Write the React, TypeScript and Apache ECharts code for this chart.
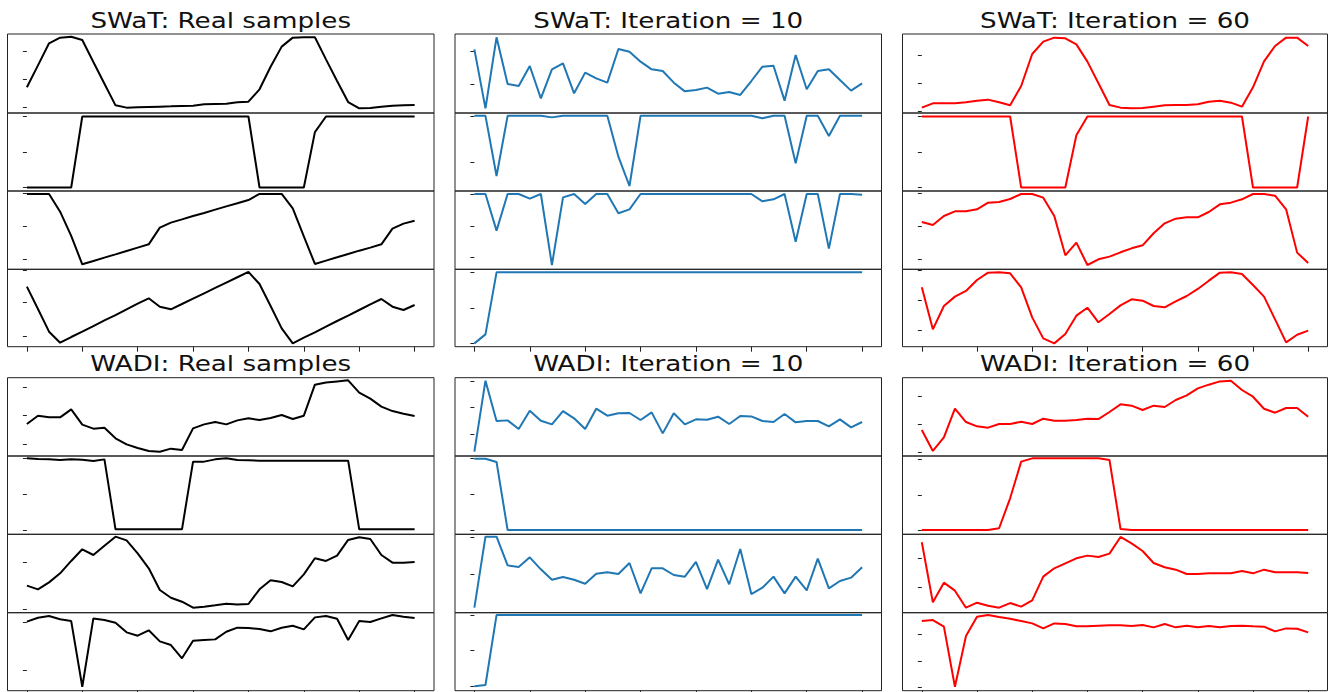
import React, { useEffect, useRef } from "react";
import * as echarts from "echarts";

// sample index along the window (0..35) and x tick values
const sampleIndex = Array.from({ length: 36 }, (_, i) => i);
const xTicks = [0, 5, 10, 15, 20, 25, 30, 35];

// Values are read as percent of each subplot's visible y-range (0 = bottom, 100 = top)
// ---------- SWaT: Real samples ----------
const swatReal1 = [32.5, 60.3, 88.2, 95.4, 96.6, 92.4, 64.6, 37.1, 9.7, 6.8, 7.2, 7.6, 8.0, 8.4, 8.9, 9.3, 11.0, 11.4, 11.8, 13.5, 14.3, 30.0, 58.6, 84.0, 95.4, 95.8, 95.8, 67.9, 40.5, 13.9, 5.9, 6.3, 8.0, 9.3, 9.7, 10.1];
const swatReal2 = [4.5, 4.5, 4.5, 4.5, 4.5, 95.5, 95.5, 95.5, 95.5, 95.5, 95.5, 95.5, 95.5, 95.5, 95.5, 95.5, 95.5, 95.5, 95.5, 95.5, 95.5, 4.5, 4.5, 4.5, 4.5, 4.5, 75.5, 95.5, 95.5, 95.5, 95.5, 95.5, 95.5, 95.5, 95.5, 95.5];
const swatReal3 = [96.2, 96.2, 96.2, 73.6, 42.6, 6.4, 10.6, 14.9, 19.1, 23.4, 27.7, 31.9, 53.2, 59.6, 63.8, 68.1, 71.9, 76.2, 80.4, 84.3, 88.5, 96.2, 96.2, 96.2, 77.9, 42.0, 6.8, 11.1, 15.3, 19.6, 23.8, 27.7, 31.9, 51.9, 58.3, 62.1];
const swatReal4 = [77.6, 48.7, 19.4, 5.2, 12.5, 19.4, 26.7, 34.1, 40.9, 48.3, 55.6, 62.5, 51.7, 48.3, 55.2, 62.1, 69.0, 75.9, 82.8, 89.7, 96.6, 81.0, 52.6, 23.7, 4.3, 11.6, 18.5, 25.9, 33.2, 40.1, 47.4, 54.7, 61.6, 51.7, 47.4, 53.9];
const swatRealTicks = [[7.6, 42.6, 77.6], [4.5, 50, 95.5], [13.2, 55.3, 97.0], [13.8, 56.9, 99.1]];

// ---------- SWaT: Iteration = 10 ----------
const swatIt10_1 = [80.6, 5.9, 95.8, 36.7, 34.2, 59.5, 18.6, 55.3, 62.9, 24.9, 51.1, 43.9, 38.4, 81.0, 77.6, 65.0, 55.3, 53.2, 38.4, 27.4, 29.1, 32.1, 24.5, 26.6, 22.8, 40.5, 58.6, 59.9, 15.6, 73.4, 30.0, 53.2, 55.3, 41.8, 28.3, 37.6];
const swatIt10_2 = [96.4, 96.4, 19.2, 96.4, 96.4, 96.4, 96.4, 94.4, 96.4, 96.4, 96.4, 96.4, 96.4, 44.0, 6.4, 96.4, 96.4, 96.4, 96.4, 96.4, 96.4, 96.4, 96.4, 96.4, 96.4, 96.4, 93.2, 96.4, 96.4, 35.5, 96.4, 96.4, 70.5, 96.4, 96.4, 96.4];
const swatIt10_3 = [96.2, 96.2, 49.4, 96.2, 96.2, 90.2, 96.2, 5.5, 91.9, 96.2, 83.4, 96.2, 96.2, 71.5, 76.6, 96.2, 96.2, 96.2, 96.2, 96.2, 96.2, 96.2, 96.2, 96.2, 96.2, 96.2, 86.8, 89.4, 96.2, 35.3, 96.2, 96.2, 26.4, 96.2, 96.2, 95.3];
const swatIt10_4 = [4.3, 15.9, 96.1, 96.1, 96.1, 96.1, 96.1, 96.1, 96.1, 96.1, 96.1, 96.1, 96.1, 96.1, 96.1, 96.1, 96.1, 96.1, 96.1, 96.1, 96.1, 96.1, 96.1, 96.1, 96.1, 96.1, 96.1, 96.1, 96.1, 96.1, 96.1, 96.1, 96.1, 96.1, 96.1, 96.1];
const swatIt10Ticks = [[36.7, 77.6], [36.8, 96.4], [14.9, 55.3, 96.2], [4.3, 49.6, 95.7]];

// ---------- SWaT: Iteration = 60 ----------
const swatIt60_1 = [6.8, 12.2, 12.2, 12.2, 13.5, 15.6, 16.9, 13.5, 9.7, 34.2, 74.7, 90.3, 95.4, 94.5, 86.9, 65.0, 37.6, 10.1, 6.8, 5.9, 6.3, 8.0, 9.7, 10.1, 10.1, 11.0, 14.3, 15.6, 13.1, 8.0, 32.5, 65.4, 84.8, 95.4, 95.4, 84.8];
const swatIt60_2 = [95.5, 95.5, 95.5, 95.5, 95.5, 95.5, 95.5, 95.5, 95.5, 4.5, 4.5, 4.5, 4.5, 4.5, 71.4, 95.5, 95.5, 95.5, 95.5, 95.5, 95.5, 95.5, 95.5, 95.5, 95.5, 95.5, 95.5, 95.5, 95.5, 95.5, 4.5, 4.5, 4.5, 4.5, 4.5, 95.5];
const swatIt60_3 = [60.4, 56.6, 68.1, 74.0, 74.0, 76.6, 85.1, 86.0, 89.8, 96.2, 96.2, 91.5, 68.1, 17.9, 34.0, 5.5, 12.8, 16.2, 21.7, 26.8, 30.6, 46.0, 58.7, 64.7, 66.4, 66.4, 73.2, 83.0, 85.1, 89.4, 96.2, 96.2, 94.0, 76.6, 21.3, 8.1];
const swatIt60_4 = [76.7, 22.4, 52.6, 64.7, 72.0, 86.2, 95.7, 96.1, 94.8, 76.7, 37.9, 10.8, 4.3, 16.4, 40.1, 50.4, 31.5, 42.2, 53.4, 61.2, 59.5, 52.6, 50.9, 58.6, 65.5, 74.6, 85.3, 95.7, 96.1, 94.0, 79.7, 64.7, 35.3, 5.6, 15.5, 20.7];
const swatIt60Ticks = [[2.5, 37.6, 72.6], [4.5, 50, 95.5], [13.2, 55.3, 97.0], [20.7, 59.5, 98.3]];

// ---------- WADI: Real samples ----------
const wadiReal1 = [40.9, 51.5, 49.4, 49.4, 59.6, 40.0, 34.9, 36.2, 22.6, 14.9, 10.2, 6.4, 5.5, 9.4, 7.7, 35.3, 40.4, 43.4, 40.4, 45.5, 48.1, 46.0, 48.5, 52.3, 47.2, 51.5, 91.1, 94.0, 95.3, 96.6, 80.9, 73.2, 63.0, 57.4, 54.0, 51.1];
const wadiReal2 = [97.0, 96.2, 95.7, 94.9, 95.7, 95.3, 93.6, 95.7, 6.4, 6.4, 6.4, 6.4, 6.4, 6.4, 6.4, 92.8, 92.8, 95.7, 97.0, 94.9, 94.5, 94.0, 94.0, 94.0, 94.0, 94.0, 94.0, 94.0, 94.0, 94.0, 6.4, 6.4, 6.4, 6.4, 6.4, 6.4];
const wadiReal3 = [34.5, 29.8, 38.7, 50.2, 66.0, 80.9, 73.6, 85.5, 97.0, 92.3, 75.7, 56.6, 28.9, 19.1, 14.0, 6.4, 7.7, 9.4, 11.5, 10.6, 11.1, 29.8, 41.3, 39.1, 33.6, 48.9, 69.4, 66.0, 72.8, 92.8, 96.2, 94.0, 73.6, 63.8, 63.8, 64.7];
const wadiReal4 = [88.5, 93.6, 95.7, 91.5, 89.3, 5.1, 92.7, 90.6, 87.2, 74.8, 70.5, 77.4, 63.2, 58.5, 41.5, 64.1, 65.0, 65.8, 75.6, 80.8, 80.3, 79.1, 76.1, 80.8, 83.3, 78.6, 94.0, 95.7, 92.3, 65.0, 89.3, 88.0, 92.7, 97.0, 94.9, 93.2];
const wadiRealTicks = [[14.9, 51.5, 87.7], [5.5, 51.5, 97.0], [4.3, 64.7], [26.5, 87.6]];

// ---------- WADI: Iteration = 10 ----------
const wadiIt10_1 = [5.5, 96.2, 44.7, 45.5, 34.5, 57.9, 45.1, 40.4, 57.4, 48.1, 34.5, 60.4, 51.5, 54.5, 54.9, 46.0, 55.7, 28.9, 54.5, 40.4, 46.8, 46.4, 50.2, 40.9, 51.1, 50.6, 44.7, 43.4, 53.6, 43.0, 44.7, 44.7, 37.9, 46.8, 36.6, 43.4];
const wadiIt10_2 = [96.5, 96.5, 92.3, 5.5, 5.5, 5.5, 5.5, 5.5, 5.5, 5.5, 5.5, 5.5, 5.5, 5.5, 5.5, 5.5, 5.5, 5.5, 5.5, 5.5, 5.5, 5.5, 5.5, 5.5, 5.5, 5.5, 5.5, 5.5, 5.5, 5.5, 5.5, 5.5, 5.5, 5.5, 5.5, 5.5];
const wadiIt10_3 = [6.4, 97.0, 97.0, 60.4, 58.3, 70.6, 55.3, 42.1, 45.5, 42.1, 37.0, 49.8, 51.5, 49.4, 63.4, 24.7, 56.6, 56.6, 48.1, 46.0, 64.7, 30.2, 67.7, 36.2, 81.3, 23.8, 31.9, 46.0, 24.7, 46.0, 28.5, 68.9, 31.1, 40.4, 44.7, 57.9];
const wadiIt10_4 = [5.6, 7.3, 97.0, 97.0, 97.0, 97.0, 97.0, 97.0, 97.0, 97.0, 97.0, 97.0, 97.0, 97.0, 97.0, 97.0, 97.0, 97.0, 97.0, 97.0, 97.0, 97.0, 97.0, 97.0, 97.0, 97.0, 97.0, 97.0, 97.0, 97.0, 97.0, 97.0, 97.0, 97.0, 97.0, 97.0];
const wadiIt10Ticks = [[27.7, 61.7, 95.7], [5.5, 51.0, 96.5], [48.9, 96.2], [5.6, 51.3, 97.0]];

// ---------- WADI: Iteration = 60 ----------
const wadiIt60_1 = [33.2, 6.4, 23.8, 60.4, 43.4, 37.9, 36.2, 40.9, 40.9, 43.8, 40.9, 47.7, 45.1, 45.1, 46.0, 47.7, 47.2, 56.2, 66.0, 64.3, 58.7, 64.3, 62.6, 71.5, 77.4, 86.4, 91.1, 95.3, 96.2, 84.3, 75.7, 60.4, 55.3, 61.3, 61.3, 50.2];
const wadiIt60_2 = [5.5, 5.5, 5.5, 5.5, 5.5, 5.5, 5.5, 7.7, 46.0, 92.8, 97.0, 97.0, 97.0, 97.0, 97.0, 97.0, 97.0, 94.9, 6.8, 5.5, 5.5, 5.5, 5.5, 5.5, 5.5, 5.5, 5.5, 5.5, 5.5, 5.5, 5.5, 5.5, 5.5, 5.5, 5.5, 5.5];
const wadiIt60_3 = [89.8, 13.2, 38.3, 28.1, 6.4, 12.8, 8.9, 6.4, 12.3, 7.7, 15.7, 46.0, 56.6, 63.0, 69.4, 72.8, 71.1, 75.3, 96.6, 88.5, 78.7, 63.4, 57.9, 54.9, 49.4, 49.4, 50.2, 50.2, 50.2, 53.2, 50.2, 54.9, 51.5, 51.5, 51.5, 50.6];
const wadiIt60_4 = [89.3, 90.6, 82.1, 5.1, 70.1, 94.9, 97.0, 94.4, 92.3, 89.3, 86.3, 79.9, 86.3, 85.5, 82.5, 82.5, 83.3, 83.8, 83.8, 82.9, 84.2, 81.2, 85.5, 81.2, 83.3, 81.2, 82.9, 81.2, 82.9, 83.3, 82.5, 82.1, 76.1, 79.9, 79.5, 74.8];
const wadiIt60Ticks = [[4.7, 40.9, 76.6], [5.5, 50.2, 96.2], [32.8, 69.4], [4.3, 38.0, 72.2]];

const panels = [
  { title: "SWaT: Real samples", color: "#000000", row: 0, col: 0, lines: [swatReal1, swatReal2, swatReal3, swatReal4], ticks: swatRealTicks },
  { title: "SWaT: Iteration = 10", color: "#1f77b4", row: 0, col: 1, lines: [swatIt10_1, swatIt10_2, swatIt10_3, swatIt10_4], ticks: swatIt10Ticks },
  { title: "SWaT: Iteration = 60", color: "#ff0000", row: 0, col: 2, lines: [swatIt60_1, swatIt60_2, swatIt60_3, swatIt60_4], ticks: swatIt60Ticks },
  { title: "WADI: Real samples", color: "#000000", row: 1, col: 0, lines: [wadiReal1, wadiReal2, wadiReal3, wadiReal4], ticks: wadiRealTicks },
  { title: "WADI: Iteration = 10", color: "#1f77b4", row: 1, col: 1, lines: [wadiIt10_1, wadiIt10_2, wadiIt10_3, wadiIt10_4], ticks: wadiIt10Ticks },
  { title: "WADI: Iteration = 60", color: "#ff0000", row: 1, col: 2, lines: [wadiIt60_1, wadiIt60_2, wadiIt60_3, wadiIt60_4], ticks: wadiIt60Ticks },
];

// layout (pixels)
const COLS = [
  { left: 7.5, right: 434 },
  { left: 455, right: 881.5 },
  { left: 902.5, right: 1327.5 },
];
const ROWS = [
  [34, 113, 191, 269.3, 346.7],
  [377.7, 456, 534.3, 612.7, 690.7],
];
const TITLE_Y = [21, 364];

function buildOption() {
  const grid: any[] = [];
  const xAxis: any[] = [];
  const yAxis: any[] = [];
  const series: any[] = [];
  const graphic: any[] = [];
  panels.forEach((p) => {
    const c = COLS[p.col];
    const r = ROWS[p.row];
    graphic.push({
      type: "text",
      x: (c.left + c.right) / 2,
      y: TITLE_Y[p.row],
      scaleX: 1.19,
      style: {
        text: p.title,
        fontSize: 22,
        fontFamily: "DejaVu Sans",
        fill: "#111111",
        textAlign: "center",
        textVerticalAlign: "middle",
      },
    });
    p.lines.forEach((vals, k) => {
      const g = grid.length;
      const isBottom = k === 3;
      grid.push({
        left: c.left,
        top: r[k],
        width: c.right - c.left,
        height: r[k + 1] - r[k],
        show: true,
        borderColor: "#222222",
        borderWidth: 1,
        backgroundColor: "transparent",
        containLabel: false,
        outerBoundsMode: "none",
      });
      xAxis.push({
        gridIndex: g,
        type: "value",
        min: -1.75,
        max: 36.75,
        axisLine: { show: false },
        axisTick: { show: isBottom, customValues: xTicks, length: 5, lineStyle: { color: "#222222", width: 1 } },
        axisLabel: { show: false, customValues: xTicks },
        splitLine: { show: false },
      });
      yAxis.push({
        gridIndex: g,
        type: "value",
        min: 0,
        max: 100,
        axisLine: { show: false },
        axisTick: { show: true, customValues: p.ticks[k], length: 4, lineStyle: { color: "#222222", width: 1 } },
        axisLabel: { show: false, customValues: p.ticks[k] },
        splitLine: { show: false },
      });
      series.push({
        type: "line",
        xAxisIndex: g,
        yAxisIndex: g,
        data: vals.map((v, i) => [sampleIndex[i], v]),
        showSymbol: false,
        symbol: "none",
        silent: true,
        lineStyle: { color: p.color, width: 2 },
        itemStyle: { color: p.color },
      });
    });
  });
  return { animation: false, grid, xAxis, yAxis, series, graphic };
}

export default function App() {
  const ref = useRef<HTMLDivElement>(null);
  useEffect(() => {
    if (!ref.current) return;
    const chart = echarts.init(ref.current, null, { renderer: "svg" });
    chart.setOption(buildOption() as any);
    return () => chart.dispose();
  }, []);
  return (
    <div
      ref={ref}
      style={{ position: "absolute", left: 0, top: 0, width: 1331, height: 692, background: "#ffffff" }}
    />
  );
}
